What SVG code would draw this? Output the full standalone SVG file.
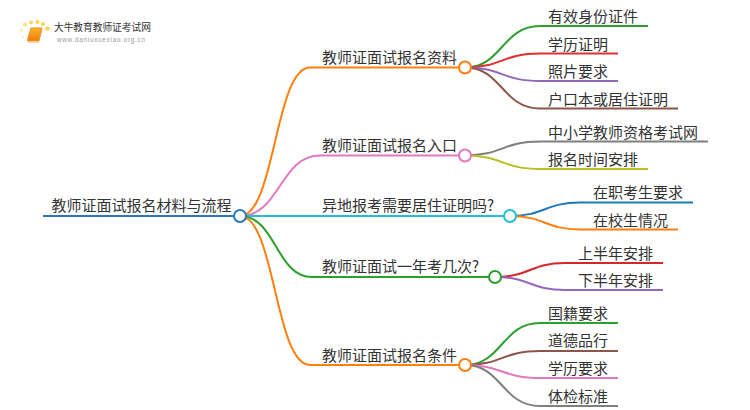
<svg xmlns="http://www.w3.org/2000/svg" width="750" height="410" viewBox="0 0 750 410">
<defs>
<linearGradient id="book" x1="0" y1="0" x2="0" y2="1"><stop offset="0" stop-color="#fbb52a"/><stop offset="1" stop-color="#ee7d10"/></linearGradient>
</defs>
<style>
text{font-family:"Noto Sans CJK SC","Noto Sans",sans-serif;font-size:15px;fill:#333}
.c path{fill:none;stroke-width:2}
circle{fill:#fff;stroke-width:2}
.dot{fill:#fbd34d;stroke:none}
</style>
<rect width="750" height="410" fill="#fff"/>
<g id="logo">
<circle class="dot" cx="23" cy="37" r="1.2" opacity=".4"/><circle class="dot" cx="21.500" cy="30" r="1.500" opacity=".5"/><circle class="dot" cx="25" cy="24.500" r="2" opacity=".7"/><circle class="dot" cx="31" cy="22.500" r="2" opacity=".9"/><circle class="dot" cx="37.500" cy="22" r="2"/><circle class="dot" cx="43" cy="24" r="2"/><circle class="dot" cx="47.500" cy="28.500" r="2.300"/>
<path d="M31 28H42L39 40.500H27.500Z" fill="url(#book)" stroke="#ee8a15" stroke-width="1"/>
<path d="M27.500 40.500L28.500 42H38.500L41.500 30" fill="none" stroke="#f0a030" stroke-width="1"/>
<text x="54" y="31" style="font-size:9.700px">大牛教育教师证考试网</text>
<text x="57" y="41.500" style="font-size:6.300px;letter-spacing:.75px;fill:#999;font-family:'Liberation Sans',sans-serif">www.daniuxuexiao.org.cn</text>
</g>
<g id="connectors" class="c">
<path d="M43 216H240" stroke="#2a77bd"/>
<path d="M240 216C275 216 275 67.500 310 67.500H465" stroke="#ff7f0e"/>
<path d="M240 216C280 216 280 155.500 320 155.500H465" stroke="#e377c2"/>
<path d="M240 216H510" stroke="#1fc0d8"/>
<path d="M240 216C276 216 276 277 312 277H495" stroke="#2ca02c"/>
<path d="M240 216C275 216 275 365 310 365H465" stroke="#ff7f0e"/>
<path d="M465 67.500C502 67.500 502 26 540 26H648" stroke="#2ca02c"/>
<path d="M465 67.500C502 67.500 502 53.500 540 53.500H618" stroke="#e03030"/>
<path d="M465 67.500C502 67.500 502 81 540 81H618" stroke="#9467bd"/>
<path d="M465 67.500C502 67.500 502 108.500 540 108.500H678" stroke="#8c564b"/>
<path d="M465 155.500C502 155.500 502 141.500 540 141.500H708" stroke="#7f7f7f"/>
<path d="M465 155.500C502 155.500 502 169 540 169H648" stroke="#bcbd22"/>
<path d="M510 216C545 216 545 202.500 580 202.500H693" stroke="#1f77b4"/>
<path d="M510 216C545 216 545 229.500 580 229.500H678" stroke="#ff7f0e"/>
<path d="M495 277C530 277 530 263 565 263H663" stroke="#d62728"/>
<path d="M495 277C530 277 530 290 565 290H663" stroke="#9467bd"/>
<path d="M465 365C502 365 502 323 540 323H618" stroke="#2ca02c"/>
<path d="M465 365C502 365 502 351 540 351H618" stroke="#8c564b"/>
<path d="M465 365C502 365 502 378 540 378H618" stroke="#e377c2"/>
<path d="M465 365C502 365 502 406 540 406H618" stroke="#7f7f7f"/>
</g>
<g id="root"><circle cx="240" cy="216" r="6" stroke="#2a77bd"/><text x="51.500" y="211">教师证面试报名材料与流程</text></g>
<g id="n1"><circle cx="465" cy="67.500" r="6" stroke="#ff7f0e"/><text x="322" y="62.500">教师证面试报名资料</text></g>
<g id="n2"><circle cx="465" cy="155.500" r="6" stroke="#e377c2"/><text x="322" y="151">教师证面试报名入口</text></g>
<g id="n3"><circle cx="510" cy="216" r="6" stroke="#1fc0d8"/><text x="322" y="211">异地报考需要居住证明吗?</text></g>
<g id="n4"><circle cx="495" cy="277" r="6" stroke="#2ca02c"/><text x="322" y="271.500">教师证面试一年考几次?</text></g>
<g id="n5"><circle cx="465" cy="365" r="6" stroke="#ff7f0e"/><text x="322" y="360.500">教师证面试报名条件</text></g>
<g id="l1"><text x="548" y="22">有效身份证件</text></g>
<g id="l2"><text x="548" y="49.500">学历证明</text></g>
<g id="l3"><text x="548" y="77">照片要求</text></g>
<g id="l4"><text x="548" y="104.500">户口本或居住证明</text></g>
<g id="l5"><text x="548" y="138">中小学教师资格考试网</text></g>
<g id="l6"><text x="548" y="165">报名时间安排</text></g>
<g id="l7"><text x="593" y="198">在职考生要求</text></g>
<g id="l8"><text x="593" y="226">在校生情况</text></g>
<g id="l9"><text x="578" y="258.500">上半年安排</text></g>
<g id="l10"><text x="578" y="286">下半年安排</text></g>
<g id="l11"><text x="548" y="319">国籍要求</text></g>
<g id="l12"><text x="548" y="346">道德品行</text></g>
<g id="l13"><text x="548" y="374">学历要求</text></g>
<g id="l14"><text x="548" y="402">体检标准</text></g>
</svg>
